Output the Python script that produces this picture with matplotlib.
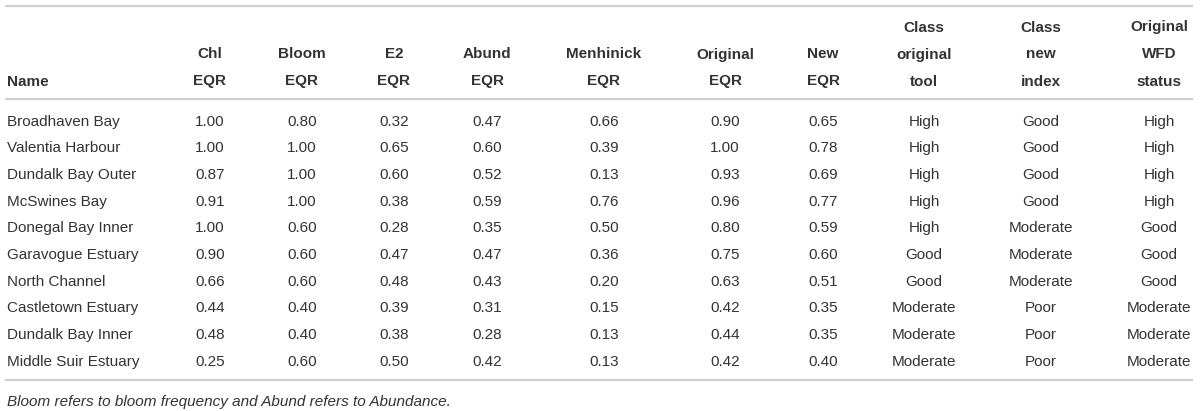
import matplotlib
matplotlib.use("Agg")
import matplotlib.pyplot as plt

names = ["Broadhaven Bay", "Valentia Harbour", "Dundalk Bay Outer", "McSwines Bay",
         "Donegal Bay Inner", "Garavogue Estuary", "North Channel", "Castletown Estuary",
         "Dundalk Bay Inner", "Middle Suir Estuary"]
chl = [1.00, 1.00, 0.87, 0.91, 1.00, 0.90, 0.66, 0.44, 0.48, 0.25]
bloom = [0.80, 1.00, 1.00, 1.00, 0.60, 0.60, 0.60, 0.40, 0.40, 0.60]
e2 = [0.32, 0.65, 0.60, 0.38, 0.28, 0.47, 0.48, 0.39, 0.38, 0.50]
abund = [0.47, 0.60, 0.52, 0.59, 0.35, 0.47, 0.43, 0.31, 0.28, 0.42]
menhinick = [0.66, 0.39, 0.13, 0.76, 0.50, 0.36, 0.20, 0.15, 0.13, 0.13]
original_eqr = [0.90, 1.00, 0.93, 0.96, 0.80, 0.75, 0.63, 0.42, 0.44, 0.42]
new_eqr = [0.65, 0.78, 0.69, 0.77, 0.59, 0.60, 0.51, 0.35, 0.35, 0.40]
class_original = ["High", "High", "High", "High", "High", "Good", "Good", "Moderate", "Moderate", "Moderate"]
class_new = ["Good", "Good", "Good", "Good", "Moderate", "Moderate", "Moderate", "Poor", "Poor", "Poor"]
wfd_status = ["High", "High", "High", "High", "Good", "Good", "Good", "Moderate", "Moderate", "Moderate"]

headers = [["Name"], ["Chl", "EQR"], ["Bloom", "EQR"], ["E2", "EQR"], ["Abund", "EQR"],
           ["Menhinick", "EQR"], ["Original", "EQR"], ["New", "EQR"],
           ["Class", "original", "tool"], ["Class", "new", "index"], ["Original", "WFD", "status"]]
footnote = "Bloom refers to bloom frequency and Abund refers to Abundance."

# layout (pixels)
col_x = [7, 210, 302, 394, 487, 604, 725, 823, 924, 1041, 1159]
row_y0, row_dy = 120, 26.67
header_lines_y = [26, 53, 80]
text_color = "#333333"
line_color = "#d0d0d0"
fs = 11
family = "Liberation Sans"

fig = plt.figure(figsize=(12, 4.11), dpi=100)
ax = fig.add_axes([0, 0, 1, 1])
ax.set_xlim(0, 1200)
ax.set_ylim(411, 0)
ax.axis("off")

for y in [6, 99, 380]:
    ax.plot([5, 1193], [y, y], color=line_color, lw=1.6, solid_capstyle="butt")

for i, h in enumerate(headers):
    lines = header_lines_y[-len(h):]
    for t, y in zip(h, lines):
        ax.text(col_x[i], y, t, ha="left" if i == 0 else "center", va="center_baseline",
                fontsize=fs, fontweight="bold", color=text_color, family=family)

columns = [names, chl, bloom, e2, abund, menhinick, original_eqr, new_eqr,
           class_original, class_new, wfd_status]
for j in range(len(names)):
    y = row_y0 + j * row_dy
    for i, col in enumerate(columns):
        v = col[j]
        s = f"{v:.2f}" if isinstance(v, float) else v
        ax.text(col_x[i], y, s, ha="left" if i == 0 else "center", va="center_baseline",
                fontsize=fs, color=text_color, family=family)

ax.text(7, 400, footnote, ha="left", va="center_baseline", fontsize=fs, style="italic",
        color=text_color, family=family)

fig.savefig("out.png", dpi=100, facecolor="white")
